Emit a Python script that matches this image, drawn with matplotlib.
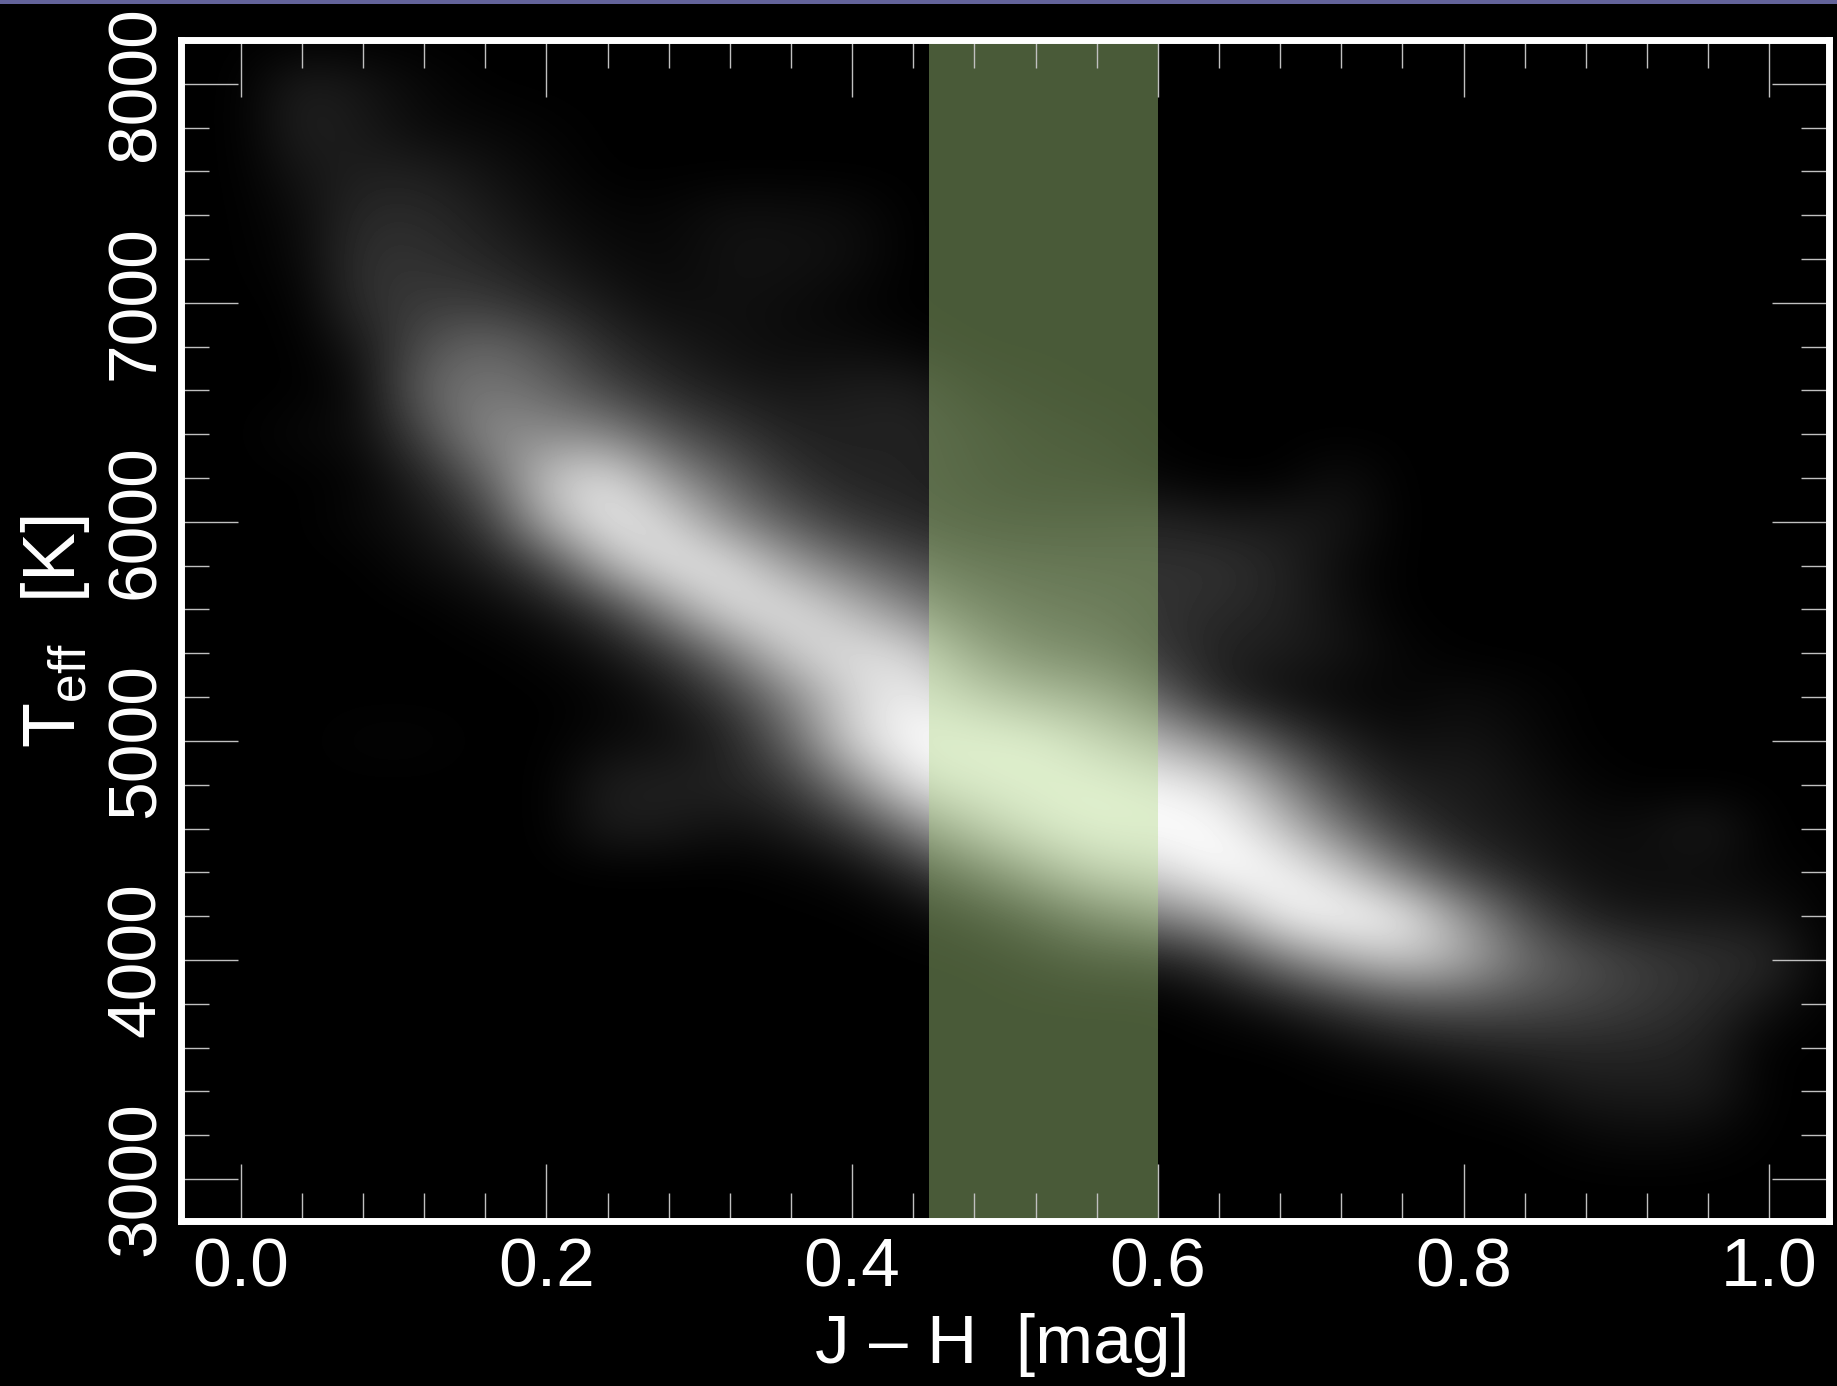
#!/usr/bin/env python

import numpy as np
import matplotlib
matplotlib.use('Agg')
import matplotlib.pyplot as plt
from matplotlib.patches import Rectangle

# Column positions in J-H and row positions in Teff for the density table.
colourBins = [0.00, 0.04, 0.08, 0.12, 0.16, 0.20, 0.24, 0.28, 0.32, 0.36, 0.40, 0.44, 0.48,
              0.52, 0.56, 0.60, 0.64, 0.68, 0.72, 0.76, 0.80, 0.84, 0.88, 0.92, 0.96, 1.00]
teffBins = [8000, 7800, 7600, 7400, 7200, 7000, 6800, 6600, 6400, 6200, 6000, 5800, 5600,
            5400, 5200, 5000, 4800, 4600, 4400, 4200, 4000, 3800, 3600, 3400, 3200, 3000]

# Grey level (0-255), one row per Teff value.
density = [
    [0, 30, 20, 8, 0, 0, 0, 0, 0, 0, 0, 0, 0, 0, 0, 0, 0, 0, 0, 0, 0, 0, 0, 0, 0, 0],
    [0, 34, 24, 10, 8, 3, 0, 0, 0, 0, 0, 0, 0, 0, 0, 0, 0, 0, 0, 0, 0, 0, 0, 0, 0, 0],
    [0, 22, 30, 30, 18, 8, 0, 0, 0, 0, 0, 0, 0, 0, 0, 0, 0, 0, 0, 0, 0, 0, 0, 0, 0, 0],
    [0, 12, 42, 42, 28, 14, 6, 6, 16, 14, 12, 0, 0, 0, 0, 0, 0, 0, 0, 0, 0, 0, 0, 0, 0, 0],
    [0, 8, 50, 48, 38, 24, 12, 8, 18, 18, 14, 0, 0, 0, 0, 0, 0, 0, 0, 0, 0, 0, 0, 0, 0, 0],
    [0, 2, 48, 58, 58, 40, 24, 12, 16, 12, 5, 0, 0, 0, 0, 0, 0, 0, 0, 0, 0, 0, 0, 0, 0, 0],
    [0, 0, 25, 80, 105, 80, 42, 26, 16, 12, 12, 6, 0, 0, 0, 0, 0, 0, 0, 0, 0, 0, 0, 0, 0, 0],
    [0, 0, 12, 100, 120, 105, 70, 42, 28, 22, 28, 30, 10, 4, 0, 0, 0, 0, 0, 0, 0, 0, 0, 0, 0, 0],
    [0, 8, 12, 70, 140, 140, 135, 85, 55, 34, 32, 36, 22, 12, 8, 0, 0, 0, 0, 0, 0, 0, 0, 0, 0, 0],
    [0, 0, 5, 35, 95, 195, 225, 150, 95, 50, 34, 34, 24, 15, 15, 5, 0, 0, 15, 0, 0, 0, 0, 0, 0, 0],
    [0, 0, 8, 20, 55, 170, 235, 215, 140, 90, 55, 42, 32, 30, 30, 36, 26, 26, 22, 0, 0, 0, 0, 0, 0, 0],
    [0, 0, 0, 12, 25, 70, 175, 230, 225, 160, 115, 78, 58, 52, 50, 48, 50, 35, 12, 0, 0, 0, 0, 0, 0, 0],
    [0, 0, 0, 0, 8, 20, 60, 145, 220, 225, 185, 135, 90, 68, 62, 50, 42, 34, 16, 0, 0, 0, 0, 0, 0, 0],
    [0, 0, 0, 0, 0, 5, 18, 55, 125, 205, 225, 215, 140, 98, 85, 55, 32, 28, 20, 6, 0, 0, 0, 0, 0, 0],
    [0, 0, 0, 0, 0, 0, 5, 20, 60, 135, 215, 240, 205, 170, 150, 100, 35, 15, 8, 5, 12, 6, 0, 0, 0, 0],
    [0, 0, 4, 4, 0, 0, 10, 15, 32, 100, 210, 255, 255, 250, 215, 178, 135, 70, 30, 14, 20, 10, 0, 0, 0, 0],
    [0, 0, 0, 0, 0, 0, 30, 32, 34, 55, 135, 225, 245, 255, 255, 240, 225, 145, 65, 28, 28, 16, 5, 0, 0, 0],
    [0, 0, 0, 0, 0, 0, 28, 25, 15, 25, 55, 125, 190, 235, 255, 255, 255, 200, 120, 55, 28, 22, 12, 14, 28, 0],
    [0, 0, 0, 0, 0, 0, 0, 0, 0, 3, 10, 40, 90, 150, 205, 215, 255, 250, 205, 125, 60, 30, 16, 12, 12, 5],
    [0, 0, 0, 0, 0, 0, 0, 0, 0, 0, 0, 5, 20, 55, 100, 130, 165, 240, 255, 240, 155, 75, 32, 22, 22, 18],
    [0, 0, 0, 0, 0, 0, 0, 0, 0, 0, 0, 0, 0, 10, 25, 28, 55, 120, 170, 200, 175, 110, 78, 58, 48, 42],
    [0, 0, 0, 0, 0, 0, 0, 0, 0, 0, 0, 0, 0, 0, 0, 0, 8, 25, 55, 80, 85, 78, 68, 55, 42, 18],
    [0, 0, 0, 0, 0, 0, 0, 0, 0, 0, 0, 0, 0, 0, 0, 0, 0, 0, 8, 20, 30, 36, 38, 38, 30, 0],
    [0, 0, 0, 0, 0, 0, 0, 0, 0, 0, 0, 0, 0, 0, 0, 0, 0, 0, 0, 0, 5, 14, 26, 26, 28, 0],
    [0, 0, 0, 0, 0, 0, 0, 0, 0, 0, 0, 0, 0, 0, 0, 0, 0, 0, 0, 0, 0, 0, 8, 12, 8, 0],
    [0, 0, 0, 0, 0, 0, 0, 0, 0, 0, 0, 0, 0, 0, 0, 0, 0, 0, 0, 0, 0, 0, 0, 0, 0, 0],
]

# The highlighted colour window.
bandEdges = [0.45, 0.60]

xTicks = [0.0, 0.2, 0.4, 0.6, 0.8, 1.0]
xTickLabels = ['0.0', '0.2', '0.4', '0.6', '0.8', '1.0']
yTicks = [3000, 4000, 5000, 6000, 7000, 8000]
yTickLabels = ['3000', '4000', '5000', '6000', '7000', '8000']

WIDTH, HEIGHT = 1837, 1386

plt.rcParams['font.family'] = ['Liberation Sans', 'DejaVu Sans']
plt.rcParams['mathtext.default'] = 'regular'

fig = plt.figure(figsize=(WIDTH / 100, HEIGHT / 100), dpi=100, facecolor='black')
ax = fig.add_axes([181 / WIDTH, 1 - 1221 / HEIGHT, (1829 - 181) / WIDTH, (1221 - 40) / HEIGHT],
                  facecolor='black')

# One empty bin round the table so the density fades out instead of stopping at an edge.
stepX = colourBins[1] - colourBins[0]
stepY = teffBins[0] - teffBins[1]
ax.imshow(np.pad(np.array(density, dtype=float), 1), cmap='gray', vmin=0, vmax=255, aspect='auto',
          interpolation='bicubic', zorder=0,
          extent=[colourBins[0] - 1.5 * stepX, colourBins[-1] + 1.5 * stepX,
                  teffBins[-1] - 1.5 * stepY, teffBins[0] + 1.5 * stepY])

ax.axvspan(bandEdges[0], bandEdges[1], facecolor=(180 / 255, 220 / 255, 137 / 255), alpha=0.41,
           edgecolor='none', zorder=1)

ax.set_xlim(-0.039, 1.039)
ax.set_ylim(2808, 8200)

ax.set_xticks(xTicks)
ax.set_xticklabels(xTickLabels)
ax.set_yticks(yTicks)
ax.set_yticklabels(yTickLabels, rotation=90, va='center')
ax.set_xticks(np.arange(0, 1.001, 0.04), minor=True)
ax.set_yticks(np.arange(3000, 8001, 200), minor=True)

ax.tick_params(which='major', direction='in', length=41, width=1.0, color='#c0c0c0',
               top=True, right=True, labelcolor='white', labelsize=50)
ax.tick_params(which='minor', direction='in', length=20, width=1.0, color='#c0c0c0',
               top=True, right=True)
ax.tick_params(axis='x', which='major', pad=11)
ax.tick_params(axis='y', which='major', pad=9)

for spine in ax.spines.values():
    spine.set_color('white')
    spine.set_linewidth(5)
    spine.set_zorder(5)

fig.text(1002 / WIDTH, 1 - 1345 / HEIGHT, 'J \u2013 H  [mag]', color='white', fontsize=50,
         ha='center', va='center')
fig.text(56 / WIDTH, 1 - 632 / HEIGHT, 'T$_{eff}$  [K]', color='white', fontsize=53,
         rotation=90, ha='center', va='center')

# Thin slide-coloured strip along the top edge.
fig.add_artist(Rectangle((0, 1 - 4 / HEIGHT), 1, 4 / HEIGHT, transform=fig.transFigure,
                         facecolor='#63639a', edgecolor='none'))

fig.savefig('out.png', dpi=100, facecolor='black')
